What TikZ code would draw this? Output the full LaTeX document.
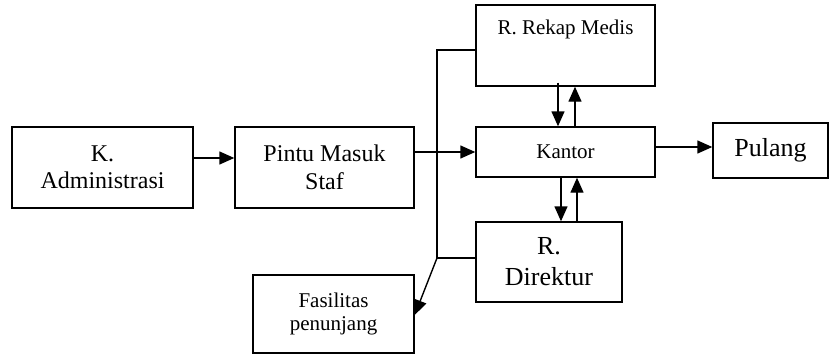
\documentclass[tikz,border=0pt]{standalone}
\usepackage{fontspec}
\setmainfont{Liberation Serif}
\usetikzlibrary{arrows.meta}
\begin{document}
\begin{tikzpicture}[x=1pt,y=-1pt,
  box/.style={draw, line width=1.4pt, rectangle, inner sep=0pt, align=center},
  arr/.style={line width=1.4pt, -{Triangle[length=15pt,width=13pt]}},
  link/.style={line width=1.4pt}]
  \useasboundingbox (0,0) rectangle (830,356);

  % boxes
  \node[box, minimum width=181pt, minimum height=81pt, font=\fontsize{24}{27.5}\selectfont]
    (adm) at (102.5,167.5) {K.\\Administrasi};
  \node[box, minimum width=179pt, minimum height=81pt, font=\fontsize{24}{27.5}\selectfont]
    (pintu) at (324.5,167.5) {Pintu Masuk\\Staf};
  \node[box, minimum width=179pt, minimum height=81pt] (rekap) at (565.5,45.5) {};
  \node[font=\fontsize{21}{24}\selectfont] (rekaptext) at (565.5,29) {R. Rekap Medis};
  \node[box, minimum width=179pt, minimum height=50pt, font=\fontsize{21}{24}\selectfont]
    (kantor) at (565.5,152) {Kantor};
  \node[box, minimum width=115pt, minimum height=55pt, font=\fontsize{26}{30}\selectfont]
    (pulang) at (770.5,150.5) {Pulang};
  \node[box, minimum width=146pt, minimum height=80pt, font=\fontsize{26}{31}\selectfont]
    (dir) at (549,262) {R.\\Direktur};
  \node[box, minimum width=161pt, minimum height=78pt, font=\fontsize{21}{23.5}\selectfont]
    (fas) at (333.5,314) {Fasilitas\\penunjang};

  % main flow
  \draw[arr] ([yshift=9.5pt]adm.east) -- ([yshift=9.5pt]pintu.west);
  \draw[arr] (pintu.east |- kantor.west) -- (kantor.west);
  \draw[arr] ([yshift=5pt]kantor.east) -- ([yshift=5pt]kantor.east -| pulang.west);

  % two-way links with the office
  \draw[arr] ([xshift=-7.5pt,yshift=4pt]rekap.south) -- ([xshift=-7.5pt]kantor.north);
  \draw[arr] ([xshift=9.5pt]kantor.north) -- ([xshift=9.5pt]rekap.south);
  \draw[arr] ([xshift=-4.5pt]kantor.south) -- ([xshift=-4.5pt]kantor.south |- dir.north);
  \draw[arr] ([xshift=11.5pt]kantor.south |- dir.north) -- ([xshift=11.5pt]kantor.south);

  % side line to the support facilities
  \coordinate (j) at (437,258);
  \draw[link] ([yshift=-4.5pt]rekap.west) -| (j) -- (j -| dir.west);
  \draw[arr] (j) -- ([yshift=-1pt]fas.east);
\end{tikzpicture}
\end{document}
